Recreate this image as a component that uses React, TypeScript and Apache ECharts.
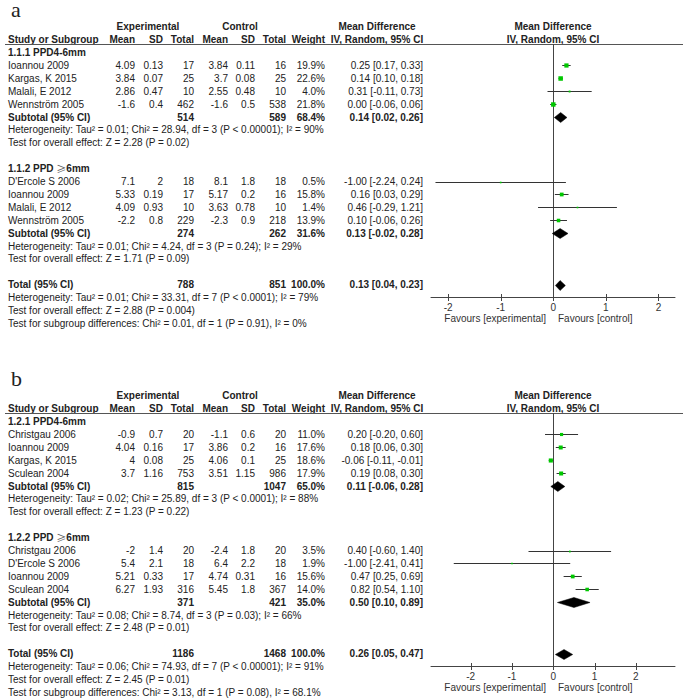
import React, { useEffect, useRef } from "react";
import * as echarts from "echarts";

// ================= DATA =================
// Panel a, subgroup 1.1.1 PPD4-6mm
const A1_NAMES = ["Ioannou 2009", "Kargas, K 2015", "Malali, E 2012", "Wennström 2005"];
const A1_EXP_MEAN = [4.09, 3.84, 2.86, -1.6];
const A1_EXP_SD = [0.13, 0.07, 0.47, 0.4];
const A1_EXP_N = [17, 25, 10, 462];
const A1_CTL_MEAN = [3.84, 3.7, 2.55, -1.6];
const A1_CTL_SD = [0.11, 0.08, 0.48, 0.5];
const A1_CTL_N = [16, 25, 10, 538];
const A1_WEIGHT = [19.9, 22.6, 4.0, 21.8];
const A1_MD = [0.25, 0.14, 0.31, 0.0];
const A1_LO = [0.17, 0.1, -0.11, -0.06];
const A1_HI = [0.33, 0.18, 0.73, 0.06];
const A1_SUB = [514, 589, 68.4, 0.14, 0.02, 0.26];
const A1_HET = "Heterogeneity: Tau² = 0.01; Chi² = 28.94, df = 3 (P < 0.00001); I² = 90%";
const A1_TEST = "Test for overall effect: Z = 2.28 (P = 0.02)";

// Panel a, subgroup 1.1.2 PPD >=6mm
const A2_NAMES = ["D'Ercole S 2006", "Ioannou 2009", "Malali, E 2012", "Wennström 2005"];
const A2_EXP_MEAN = [7.1, 5.33, 4.09, -2.2];
const A2_EXP_SD = [2, 0.19, 0.93, 0.8];
const A2_EXP_N = [18, 17, 10, 229];
const A2_CTL_MEAN = [8.1, 5.17, 3.63, -2.3];
const A2_CTL_SD = [1.8, 0.2, 0.78, 0.9];
const A2_CTL_N = [18, 16, 10, 218];
const A2_WEIGHT = [0.5, 15.8, 1.4, 13.9];
const A2_MD = [-1.0, 0.16, 0.46, 0.1];
const A2_LO = [-2.24, 0.03, -0.29, -0.06];
const A2_HI = [0.24, 0.29, 1.21, 0.26];
const A2_SUB = [274, 262, 31.6, 0.13, -0.02, 0.28];
const A2_HET = "Heterogeneity: Tau² = 0.01; Chi² = 4.24, df = 3 (P = 0.24); I² = 29%";
const A2_TEST = "Test for overall effect: Z = 1.71 (P = 0.09)";

const A_TOTAL = [788, 851, 100.0, 0.13, 0.04, 0.23];
const A_TOTAL_HET = "Heterogeneity: Tau² = 0.01; Chi² = 33.31, df = 7 (P < 0.0001); I² = 79%";
const A_TOTAL_TEST = "Test for overall effect: Z = 2.88 (P = 0.004)";
const A_SUBDIFF = "Test for subgroup differences: Chi² = 0.01, df = 1 (P = 0.91), I² = 0%";

// Panel b, subgroup 1.2.1 PPD4-6mm
const B1_NAMES = ["Christgau 2006", "Ioannou 2009", "Kargas, K 2015", "Sculean 2004"];
const B1_EXP_MEAN = [-0.9, 4.04, 4, 3.7];
const B1_EXP_SD = [0.7, 0.16, 0.08, 1.16];
const B1_EXP_N = [20, 17, 25, 753];
const B1_CTL_MEAN = [-1.1, 3.86, 4.06, 3.51];
const B1_CTL_SD = [0.6, 0.2, 0.1, 1.15];
const B1_CTL_N = [20, 16, 25, 986];
const B1_WEIGHT = [11.0, 17.6, 18.6, 17.9];
const B1_MD = [0.2, 0.18, -0.06, 0.19];
const B1_LO = [-0.2, 0.06, -0.11, 0.08];
const B1_HI = [0.6, 0.3, -0.01, 0.3];
const B1_SUB = [815, 1047, 65.0, 0.11, -0.06, 0.28];
const B1_HET = "Heterogeneity: Tau² = 0.02; Chi² = 25.89, df = 3 (P < 0.0001); I² = 88%";
const B1_TEST = "Test for overall effect: Z = 1.23 (P = 0.22)";

// Panel b, subgroup 1.2.2 PPD >=6mm
const B2_NAMES = ["Christgau 2006", "D'Ercole S 2006", "Ioannou 2009", "Sculean 2004"];
const B2_EXP_MEAN = [-2, 5.4, 5.21, 6.27];
const B2_EXP_SD = [1.4, 2.1, 0.33, 1.93];
const B2_EXP_N = [20, 18, 17, 316];
const B2_CTL_MEAN = [-2.4, 6.4, 4.74, 5.45];
const B2_CTL_SD = [1.8, 2.2, 0.31, 1.8];
const B2_CTL_N = [20, 18, 16, 367];
const B2_WEIGHT = [3.5, 1.9, 15.6, 14.0];
const B2_MD = [0.4, -1.0, 0.47, 0.82];
const B2_LO = [-0.6, -2.41, 0.25, 0.54];
const B2_HI = [1.4, 0.41, 0.69, 1.1];
const B2_SUB = [371, 421, 35.0, 0.5, 0.1, 0.89];
const B2_HET = "Heterogeneity: Tau² = 0.08; Chi² = 8.74, df = 3 (P = 0.03); I² = 66%";
const B2_TEST = "Test for overall effect: Z = 2.48 (P = 0.01)";

const B_TOTAL = [1186, 1468, 100.0, 0.26, 0.05, 0.47];
const B_TOTAL_HET = "Heterogeneity: Tau² = 0.06; Chi² = 74.93, df = 7 (P < 0.00001); I² = 91%";
const B_TOTAL_TEST = "Test for overall effect: Z = 2.45 (P = 0.01)";
const B_SUBDIFF = "Test for subgroup differences: Chi² = 3.13, df = 1 (P = 0.08), I² = 68.1%";

const TICK_VALUES = [-2, -1, 0, 1, 2];

// ================= LAYOUT =================
const FONT = "'Liberation Sans', Arial, Helvetica, sans-serif";
const SERIF = "'Liberation Serif', 'DejaVu Serif', serif";
const FS = 10;
const INK = "#222";
const PITCH = 12.9;
const TOP_A = 52.5;
const TOP_B = 421.5;
const AXIS_A = 297;
const AXIS_B = 666;
const RANGE_A = [-2.325, 2.314];
const RANGE_B = [-2.961, 2.947];
const COL = { name: 8, eMean: 135, eSD: 163, eN: 194, cMean: 228, cSD: 255, cN: 286, w: 325, ci: 423, mdHead: 377, plotHead: 553 };

type Sub = {
  title: string; names: string[]; eMean: number[]; eSD: number[]; eN: number[];
  cMean: number[]; cSD: number[]; cN: number[]; weight: number[];
  md: number[]; lo: number[]; hi: number[]; sub: number[]; het: string; test: string;
};

const SUBS_A: Sub[] = [
  { title: "1.1.1 PPD4-6mm", names: A1_NAMES, eMean: A1_EXP_MEAN, eSD: A1_EXP_SD, eN: A1_EXP_N, cMean: A1_CTL_MEAN, cSD: A1_CTL_SD, cN: A1_CTL_N, weight: A1_WEIGHT, md: A1_MD, lo: A1_LO, hi: A1_HI, sub: A1_SUB, het: A1_HET, test: A1_TEST },
  { title: "1.1.2 PPD |6mm", names: A2_NAMES, eMean: A2_EXP_MEAN, eSD: A2_EXP_SD, eN: A2_EXP_N, cMean: A2_CTL_MEAN, cSD: A2_CTL_SD, cN: A2_CTL_N, weight: A2_WEIGHT, md: A2_MD, lo: A2_LO, hi: A2_HI, sub: A2_SUB, het: A2_HET, test: A2_TEST },
];
const SUBS_B: Sub[] = [
  { title: "1.2.1 PPD4-6mm", names: B1_NAMES, eMean: B1_EXP_MEAN, eSD: B1_EXP_SD, eN: B1_EXP_N, cMean: B1_CTL_MEAN, cSD: B1_CTL_SD, cN: B1_CTL_N, weight: B1_WEIGHT, md: B1_MD, lo: B1_LO, hi: B1_HI, sub: B1_SUB, het: B1_HET, test: B1_TEST },
  { title: "1.2.2 PPD |6mm", names: B2_NAMES, eMean: B2_EXP_MEAN, eSD: B2_EXP_SD, eN: B2_EXP_N, cMean: B2_CTL_MEAN, cSD: B2_CTL_SD, cN: B2_CTL_N, weight: B2_WEIGHT, md: B2_MD, lo: B2_LO, hi: B2_HI, sub: B2_SUB, het: B2_HET, test: B2_TEST },
];

function txt(x: number, y: number, s: string, align = "left", bold = false): any {
  return {
    type: "text", silent: true, x, y,
    style: { text: s, fill: INK, fontSize: FS, fontFamily: FONT, fontWeight: bold ? "bold" : "normal", align, verticalAlign: "middle" },
  };
}

function headingText(x: number, y: number, title: string): any {
  if (title.indexOf("|") < 0) return txt(x, y, title, "left", true);
  const [pre, post] = title.split("|");
  return {
    type: "text", silent: true, x, y,
    style: {
      text: `{h|${pre}}{g|≥}{h|${post}}`, fill: INK, align: "left", verticalAlign: "middle",
      rich: {
        h: { fontSize: FS, fontFamily: FONT, fontWeight: "bold", fill: INK },
        g: { fontSize: FS, fontFamily: "'Noto Sans CJK SC', 'DejaVu Sans', sans-serif", fontWeight: "normal", fill: "#555" },
      },
    },
  };
}

const ci = (m: number, l: number, h: number) => `${m.toFixed(2)} [${l.toFixed(2)}, ${h.toFixed(2)}]`;

function panelGraphics(label: string, labelY: number, top: number, subs: Sub[], total: number[], totHet: string, totTest: string, subDiff: string, axisY: number): any[] {
  const Y = (k: number) => top + k * PITCH;
  const g: any[] = [];
  g.push({ type: "text", silent: true, x: 11, y: labelY, style: { text: label, fill: INK, fontSize: 22, fontFamily: SERIF, align: "left", verticalAlign: "middle" } });
  // header row 1
  g.push(txt(148, Y(-2), "Experimental", "center", true));
  g.push(txt(240, Y(-2), "Control", "center", true));
  g.push(txt(COL.mdHead, Y(-2), "Mean Difference", "center", true));
  g.push(txt(COL.plotHead, Y(-2), "Mean Difference", "center", true));
  // header row 2
  g.push(txt(COL.name, Y(-1), "Study or Subgroup", "left", true));
  g.push(txt(COL.eMean, Y(-1), "Mean", "right", true));
  g.push(txt(COL.eSD, Y(-1), "SD", "right", true));
  g.push(txt(COL.eN, Y(-1), "Total", "right", true));
  g.push(txt(COL.cMean, Y(-1), "Mean", "right", true));
  g.push(txt(COL.cSD, Y(-1), "SD", "right", true));
  g.push(txt(COL.cN, Y(-1), "Total", "right", true));
  g.push(txt(COL.w, Y(-1), "Weight", "right", true));
  g.push(txt(COL.mdHead, Y(-1), "IV, Random, 95% CI", "center", true));
  g.push(txt(COL.plotHead, Y(-1), "IV, Random, 95% CI", "center", true));
  const ly = Math.round(top - 9) + 0.5;
  g.push({ type: "line", silent: true, shape: { x1: 5, y1: ly, x2: 683, y2: ly }, style: { stroke: "#555", lineWidth: 1 } });

  subs.forEach((s, si) => {
    const b = si * 9;
    g.push(headingText(COL.name, Y(b), s.title));
    s.names.forEach((n, i) => {
      const y = Y(b + 1 + i);
      g.push(txt(COL.name, y, n));
      g.push(txt(COL.eMean, y, String(s.eMean[i]), "right"));
      g.push(txt(COL.eSD, y, String(s.eSD[i]), "right"));
      g.push(txt(COL.eN, y, String(s.eN[i]), "right"));
      g.push(txt(COL.cMean, y, String(s.cMean[i]), "right"));
      g.push(txt(COL.cSD, y, String(s.cSD[i]), "right"));
      g.push(txt(COL.cN, y, String(s.cN[i]), "right"));
      g.push(txt(COL.w, y, s.weight[i].toFixed(1) + "%", "right"));
      g.push(txt(COL.ci, y, ci(s.md[i], s.lo[i], s.hi[i]), "right"));
    });
    const ys = Y(b + 5);
    g.push(txt(COL.name, ys, "Subtotal (95% CI)", "left", true));
    g.push(txt(COL.eN, ys, String(s.sub[0]), "right", true));
    g.push(txt(COL.cN, ys, String(s.sub[1]), "right", true));
    g.push(txt(COL.w, ys, s.sub[2].toFixed(1) + "%", "right", true));
    g.push(txt(COL.ci, ys, ci(s.sub[3], s.sub[4], s.sub[5]), "right", true));
    g.push(txt(COL.name, Y(b + 6), s.het));
    g.push(txt(COL.name, Y(b + 7), s.test));
  });
  const yt = Y(18);
  g.push(txt(COL.name, yt, "Total (95% CI)", "left", true));
  g.push(txt(COL.eN, yt, String(total[0]), "right", true));
  g.push(txt(COL.cN, yt, String(total[1]), "right", true));
  g.push(txt(COL.w, yt, total[2].toFixed(1) + "%", "right", true));
  g.push(txt(COL.ci, yt, ci(total[3], total[4], total[5]), "right", true));
  g.push(txt(COL.name, Y(19), totHet));
  g.push(txt(COL.name, Y(20), totTest));
  g.push(txt(COL.name, Y(21), subDiff));
  // favours
  const fy = axisY + 21;
  g.push({ type: "text", silent: true, x: 546, y: fy, style: { text: "Favours [experimental]", fill: "#333", fontSize: FS, fontFamily: FONT, align: "right", verticalAlign: "middle" } });
  g.push({ type: "text", silent: true, x: 558, y: fy, style: { text: "Favours [control]", fill: "#333", fontSize: FS, fontFamily: FONT, align: "left", verticalAlign: "middle" } });
  return g;
}

function forestData(top: number, subs: Sub[], total: number[]): number[][] {
  const Y = (k: number) => top + k * PITCH;
  const rows: number[][] = [];
  subs.forEach((s, si) => {
    const b = si * 9;
    s.md.forEach((m, i) => rows.push([m, s.lo[i], s.hi[i], Y(b + 1 + i), s.weight[i], 0]));
    rows.push([s.sub[3], s.sub[4], s.sub[5], Y(b + 5), s.sub[2], 1]);
  });
  rows.push([total[3], total[4], total[5], Y(18), total[2], 1]);
  return rows;
}

const renderForest = (params: any, api: any) => {
  const md = api.value(0), lo = api.value(1), hi = api.value(2), yv = api.value(3), w = api.value(4), kind = api.value(5);
  const c = api.coord([md, yv]);
  const l = api.coord([lo, yv]);
  const h = api.coord([hi, yv]);
  const y = Math.round(c[1]) + 0.5;
  if (kind === 1) {
    const hh = 5;
    return {
      type: "polygon",
      shape: { points: [[l[0], y], [c[0], y - hh], [h[0], y], [c[0], y + hh]] },
      style: { fill: "#000", stroke: "#000", lineWidth: 0.5 },
    };
  }
  const s = Math.max(1.6, Math.sqrt(w) * 0.95);
  return {
    type: "group",
    children: [
      { type: "line", shape: { x1: l[0], y1: y, x2: h[0], y2: y }, style: { stroke: "#333", lineWidth: 1 } },
      { type: "rect", shape: { x: c[0] - s / 2, y: y - s / 2, width: s, height: s }, style: { fill: "#00c800" } },
    ],
  };
};

function zeroLine(y0: number, y1: number) {
  return (params: any, api: any) => {
    const a = api.coord([api.value(0), y0]);
    const b = api.coord([api.value(0), y1]);
    const x = Math.round(a[0]) + 0.5;
    return { type: "line", shape: { x1: x, y1: a[1], x2: x, y2: b[1] }, style: { stroke: "#444", lineWidth: 1 } };
  };
}

function tickRender(axisY: number) {
  return (params: any, api: any) => {
    const p = api.coord([api.value(0), axisY]);
    const x = Math.round(p[0]) + 0.5;
    return { type: "line", shape: { x1: x, y1: p[1] - 3, x2: x, y2: p[1] + 4 }, style: { stroke: "#444", lineWidth: 1 } };
  };
}

function buildOption(): any {
  const xAxisCommon = (i: number, range: number[]) => ({
    gridIndex: i, type: "value", min: range[0], max: range[1],
    splitLine: { show: false },
    axisLine: { show: true, onZero: false, lineStyle: { color: "#444", width: 1 } },
    axisTick: { show: false },
    axisLabel: { show: true, customValues: TICK_VALUES, margin: 5, fontSize: FS, color: "#333", fontFamily: FONT },
  });
  return {
    animation: false,
    backgroundColor: "#fff",
    grid: [
      { left: 431, right: 10, top: 0, height: AXIS_A },
      { left: 431, right: 10, top: 0, height: AXIS_B },
    ],
    xAxis: [xAxisCommon(0, RANGE_A), xAxisCommon(1, RANGE_B)],
    yAxis: [
      { gridIndex: 0, type: "value", min: 0, max: AXIS_A, inverse: true, show: false },
      { gridIndex: 1, type: "value", min: 0, max: AXIS_B, inverse: true, show: false },
    ],
    graphic: [
      ...panelGraphics("a", 9, TOP_A, SUBS_A, A_TOTAL, A_TOTAL_HET, A_TOTAL_TEST, A_SUBDIFF, AXIS_A),
      ...panelGraphics("b", 378, TOP_B, SUBS_B, B_TOTAL, B_TOTAL_HET, B_TOTAL_TEST, B_SUBDIFF, AXIS_B),
    ],
    series: [
      { type: "custom", name: "zeroA", xAxisIndex: 0, yAxisIndex: 0, clip: false, silent: true, data: [[0]], renderItem: zeroLine(Math.round(TOP_A - 9), AXIS_A) },
      { type: "custom", name: "zeroB", xAxisIndex: 1, yAxisIndex: 1, clip: false, silent: true, data: [[0]], renderItem: zeroLine(Math.round(TOP_B - 9), AXIS_B) },
      { type: "custom", name: "ticksA", xAxisIndex: 0, yAxisIndex: 0, clip: false, silent: true, data: TICK_VALUES.map((v) => [v]), renderItem: tickRender(AXIS_A) },
      { type: "custom", name: "ticksB", xAxisIndex: 1, yAxisIndex: 1, clip: false, silent: true, data: TICK_VALUES.map((v) => [v]), renderItem: tickRender(AXIS_B) },
      { type: "custom", name: "forestA", xAxisIndex: 0, yAxisIndex: 0, clip: false, silent: true, encode: { x: [0, 1, 2], y: 3 }, data: forestData(TOP_A, SUBS_A, A_TOTAL), renderItem: renderForest },
      { type: "custom", name: "forestB", xAxisIndex: 1, yAxisIndex: 1, clip: false, silent: true, encode: { x: [0, 1, 2], y: 3 }, data: forestData(TOP_B, SUBS_B, B_TOTAL), renderItem: renderForest },
    ],
  };
}

export default function App() {
  const ref = useRef<HTMLDivElement>(null);
  useEffect(() => {
    const chart = echarts.init(ref.current as HTMLDivElement, null, { renderer: "svg" });
    chart.setOption(buildOption());
    return () => chart.dispose();
  }, []);
  return <div ref={ref} style={{ position: "absolute", left: 0, top: 0, width: 685, height: 699, background: "#fff" }} />;
}
